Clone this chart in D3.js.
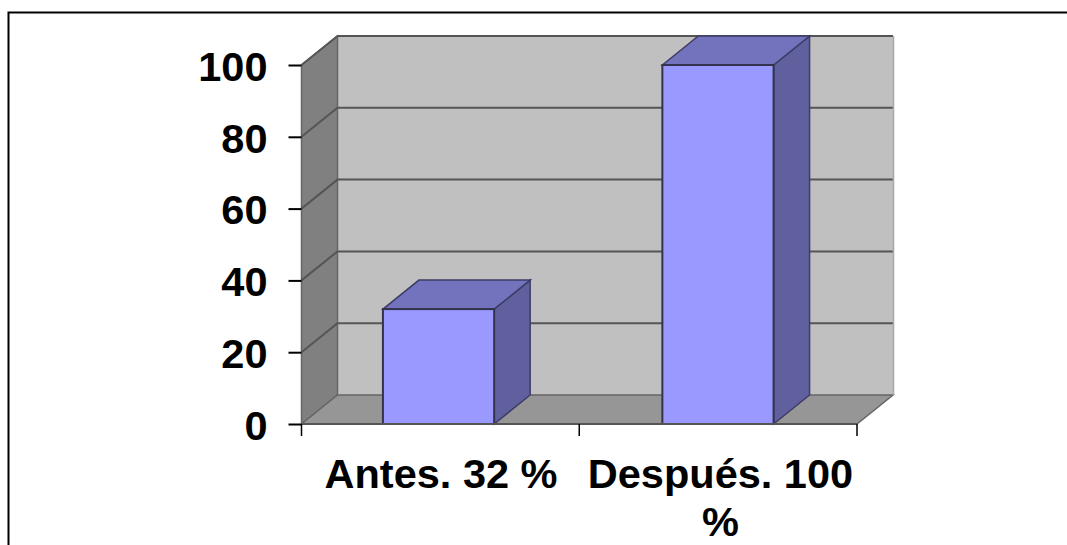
<!DOCTYPE html>
<html>
<head>
<meta charset="utf-8">
<script src="https://cdn.jsdelivr.net/npm/d3@7"></script>
<style>
  html, body { margin: 0; padding: 0; background: #fff; overflow: hidden; }
  text { font-family: "Liberation Sans", Arial, sans-serif; font-weight: bold; fill: #000; }
</style>
</head>
<body>
<div id="chart"></div>
<script>
const categories = ["Antes. 32 %", "Después. 100 %"];
const values = [32, 100];
const yTicks = [0, 20, 40, 60, 80, 100];
// the second label wraps in the original
const labelLines = [["Antes. 32 %"], ["Después. 100", "%"]];

const W = 1067, H = 545;
const plotLeft = 301.5, plotRight = 857, plotBottom = 424, plotTop = 65;
// offset of the back wall from the front plane
const dx = 36, dy = -29;

const svg = d3.select("#chart").append("svg")
  .attr("width", W).attr("height", H)
  .style("display", "block");

// bars sit a touch left of the band centres in the original
const x = d3.scaleBand().domain(categories).range([plotLeft - 1, plotRight - 1]).paddingInner(0.602).paddingOuter(0.295);
const y = d3.scaleLinear().domain([0, 100]).range([plotBottom, plotTop]);
const line = d3.line();

// outer frame, runs off the page on the right and bottom
svg.append("rect")
  .attr("x", 8.5).attr("y", 12.5)
  .attr("width", 1100).attr("height", 600)
  .attr("fill", "none").attr("stroke", "#000").attr("stroke-width", 2);

// back wall
svg.append("rect")
  .attr("x", plotLeft + dx).attr("y", y(100) + dy)
  .attr("width", plotRight - plotLeft).attr("height", plotBottom - plotTop)
  .attr("fill", "#c0c0c0");

// side wall
svg.append("path")
  .attr("d", line([[plotLeft, y(100)], [plotLeft + dx, y(100) + dy], [plotLeft + dx, y(0) + dy], [plotLeft, y(0)]]) + "Z")
  .attr("fill", "#808080").attr("stroke", "#666").attr("stroke-width", 1.5);

// floor
svg.append("path")
  .attr("d", line([[plotLeft, y(0)], [plotLeft + dx, y(0) + dy], [plotRight + dx, y(0) + dy], [plotRight, y(0)]]) + "Z")
  .attr("fill", "#969696").attr("stroke", "#666").attr("stroke-width", 1.5);

// gridlines on both walls
svg.append("g").selectAll("path")
  .data(yTicks.filter(d => d > 0))
  .join("path")
  .attr("d", d => line([[plotLeft, y(d)], [plotLeft + dx, y(d) + dy], [plotRight + dx, y(d) + dy]]))
  .attr("fill", "none").attr("stroke", "#555").attr("stroke-width", 2);

// right edge of back wall
svg.append("line")
  .attr("x1", plotRight + dx + 0.5).attr("x2", plotRight + dx + 0.5)
  .attr("y1", y(100) + dy).attr("y2", y(0) + dy)
  .attr("stroke", "#a8a8a8").attr("stroke-width", 1.5);

// bars: side, top, front
const bars = svg.append("g").selectAll("g")
  .data(categories.map((c, i) => ({ c, v: values[i] })))
  .join("g");

bars.append("path")
  .attr("d", d => {
    const x1 = x(d.c) + x.bandwidth();
    return line([[x1, y(d.v)], [x1 + dx, y(d.v) + dy], [x1 + dx, y(0) + dy], [x1, y(0)]]) + "Z";
  })
  .attr("fill", "#60609f").attr("stroke", "#3c3c66").attr("stroke-width", 1.5);

bars.append("path")
  .attr("d", d => {
    const x0 = x(d.c), x1 = x0 + x.bandwidth();
    return line([[x0, y(d.v)], [x0 + dx, y(d.v) + dy], [x1 + dx, y(d.v) + dy], [x1, y(d.v)]]) + "Z";
  })
  .attr("fill", "#7373bd").attr("stroke", "#3c3c66").attr("stroke-width", 1.5);

bars.append("rect")
  .attr("x", d => x(d.c)).attr("y", d => y(d.v))
  .attr("width", x.bandwidth()).attr("height", d => y(0) - y(d.v))
  .attr("fill", "#9999ff").attr("stroke", "#33334d").attr("stroke-width", 2);

// y axis
const yAxis = svg.append("g")
  .attr("transform", `translate(${plotLeft},0)`)
  .call(d3.axisLeft(y).tickValues(yTicks).tickSize(13).tickPadding(21));
yAxis.select(".domain").remove();
yAxis.selectAll(".tick line").attr("stroke", "#000").attr("stroke-width", 2);
yAxis.selectAll(".tick text")
  .style("font-size", "41.5px")
  .attr("font-family", null)
  .attr("dy", "0.37em");

// x axis line and separators
svg.append("line")
  .attr("x1", plotLeft).attr("x2", plotRight)
  .attr("y1", y(0)).attr("y2", y(0))
  .attr("stroke", "#555").attr("stroke-width", 2);
svg.append("g").selectAll("line")
  .data([plotLeft, (plotLeft + plotRight) / 2, plotRight])
  .join("line")
  .attr("x1", d => d).attr("x2", d => d)
  .attr("y1", y(0)).attr("y2", y(0) + 12)
  .attr("stroke", "#000").attr("stroke-width", 1.5);

// category labels
const labels = svg.append("g").selectAll("text")
  .data(categories)
  .join("text")
  .attr("text-anchor", "middle")
  .attr("x", d => x(d) + x.bandwidth() / 2 + 2.5)
  .attr("y", 488)
  .style("font-size", "41.5px");
labels.selectAll("tspan")
  .data((d, i) => labelLines[i])
  .join("tspan")
  .attr("x", function () { return d3.select(this.parentNode).attr("x"); })
  .attr("dy", (d, i) => i ? 48 : 0)
  .text(d => d);
</script>
</body>
</html>
